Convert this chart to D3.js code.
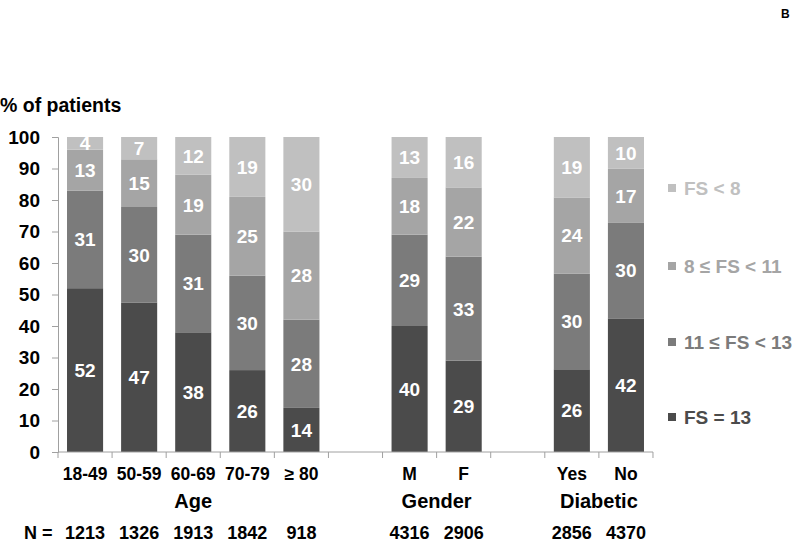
<!DOCTYPE html>
<html>
<head>
<meta charset="utf-8">
<script src="https://cdn.jsdelivr.net/npm/d3@7"></script>
<style>
  html, body { margin: 0; padding: 0; background: #fff; }
  svg { display: block; font-family: "Liberation Sans", Arial, sans-serif; font-weight: bold; }
</style>
</head>
<body>
<svg id="chart" width="800" height="544"></svg>
<script>
// ---- Data ----
const slots = ["18-49", "50-59", "60-69", "70-79", "≥ 80", "gap1", "M", "F", "gap2", "Yes", "No"];
const categories = ["18-49", "50-59", "60-69", "70-79", "≥ 80", "M", "F", "Yes", "No"];
const fsEq13   = [52, 47, 38, 26, 14, 40, 29, 26, 42];
const fs11to13 = [31, 30, 31, 30, 28, 29, 33, 30, 30];
const fs8to11  = [13, 15, 19, 25, 28, 18, 22, 24, 17];
const fsLt8    = [4, 7, 12, 19, 30, 13, 16, 19, 10];
const nValues  = [1213, 1326, 1913, 1842, 918, 4316, 2906, 2856, 4370];
const groupNames = ["Age", "Gender", "Diabetic"];
const groupMembers = [["18-49", "50-59", "60-69", "70-79", "≥ 80"], ["M", "F"], ["Yes", "No"]];
const seriesKeys = ["FS = 13", "11 ≤ FS < 13", "8 ≤ FS < 11", "FS < 8"];
const seriesColors = ["#4b4b4b", "#7b7b7b", "#a5a5a5", "#c0c0c0"];
const yTicks = [0, 10, 20, 30, 40, 50, 60, 70, 80, 90, 100];

const seriesValues = [fsEq13, fs11to13, fs8to11, fsLt8];
const rows = categories.map((c, i) => {
  const r = { cat: c };
  seriesKeys.forEach((k, j) => r[k] = seriesValues[j][i]);
  return r;
});

const svg = d3.select("#chart");
const x = d3.scaleBand().domain(slots).range([58, 653]).paddingInner(0.333).paddingOuter(0.1667);
const y = d3.scaleLinear().domain([0, 1]).range([452, 137]);
const yPct = d3.scaleLinear().domain([0, 100]).range([452, 137]);
const color = d3.scaleOrdinal().domain(seriesKeys).range(seriesColors);

const stack = d3.stack().keys(seriesKeys).offset(d3.stackOffsetExpand);
const stacked = stack(rows);

// Bars
const layers = svg.append("g").selectAll("g").data(stacked).join("g")
  .attr("fill", d => color(d.key));
layers.selectAll("rect").data(d => d).join("rect")
  .attr("x", d => x(d.data.cat))
  .attr("width", x.bandwidth())
  .attr("y", d => y(d[1]))
  .attr("height", d => y(d[0]) - y(d[1]));

// Segment labels
const labels = svg.append("g");
stacked.forEach(layer => {
  labels.selectAll(null).data(layer).join("text")
    .attr("x", d => x(d.data.cat) + x.bandwidth() / 2)
    .attr("y", d => (y(d[0]) + y(d[1])) / 2)
    .attr("dy", "0.36em")
    .attr("text-anchor", "middle")
    .attr("fill", "#fff")
    .attr("font-size", 19)
    .text(d => d.data[layer.key]);
});

// Y axis
const yAxis = svg.append("g").attr("transform", "translate(58,0)")
  .call(d3.axisLeft(yPct).tickValues(yTicks).tickSize(6).tickPadding(12));
yAxis.select(".domain").attr("stroke", "#a0a0a0");
yAxis.selectAll(".tick line").attr("stroke", "#a0a0a0");
yAxis.selectAll(".tick text").attr("font-size", 19).attr("font-weight", "bold")
  .attr("font-family", "Liberation Sans, Arial, sans-serif").attr("fill", "#000");

// X axis line and boundary ticks
const step = x.step();
const x0 = x.range()[0];
svg.append("line").attr("x1", x0).attr("x2", x.range()[1]).attr("y1", 452).attr("y2", 452)
  .attr("stroke", "#a0a0a0");
svg.append("g").selectAll("line").data(d3.range(slots.length + 1)).join("line")
  .attr("x1", i => x0 + i * step).attr("x2", i => x0 + i * step)
  .attr("y1", 452).attr("y2", 458).attr("stroke", "#a0a0a0");

// X category labels
svg.append("g").selectAll("text").data(categories).join("text")
  .attr("x", d => x(d) + x.bandwidth() / 2)
  .attr("y", 480)
  .attr("text-anchor", "middle")
  .attr("font-size", 17.5)
  .text(d => d);

// Group labels
svg.append("g").selectAll("text").data(groupNames).join("text")
  .attr("x", (d, i) => {
    const m = groupMembers[i];
    return (x(m[0]) + x(m[m.length - 1]) + x.bandwidth()) / 2;
  })
  .attr("y", 508)
  .attr("text-anchor", "middle")
  .attr("font-size", 20)
  .text(d => d);

// N row
svg.append("text").attr("x", 24).attr("y", 539).attr("font-size", 18).text("N =");
svg.append("g").selectAll("text").data(categories).join("text")
  .attr("x", d => x(d) + x.bandwidth() / 2)
  .attr("y", 539)
  .attr("text-anchor", "middle")
  .attr("font-size", 18)
  .text((d, i) => nValues[i]);

// Y title
svg.append("text").attr("x", 0).attr("y", 112).attr("font-size", 19.5).text("% of patients");

// Panel letter
svg.append("text").attr("x", 781).attr("y", 18).attr("font-size", 12).text("B");

// Legend
const legendY = { "FS < 8": 188, "8 ≤ FS < 11": 266, "11 ≤ FS < 13": 342, "FS = 13": 417 };
const legend = svg.append("g").selectAll("g").data(seriesKeys).join("g")
  .attr("transform", d => `translate(668,${legendY[d]})`);
legend.append("rect").attr("x", 0).attr("y", -4).attr("width", 8).attr("height", 8)
  .attr("fill", d => color(d));
legend.append("text").attr("x", 16).attr("dy", "0.36em").attr("font-size", 19)
  .attr("fill", d => color(d)).text(d => d);
</script>
</body>
</html>
